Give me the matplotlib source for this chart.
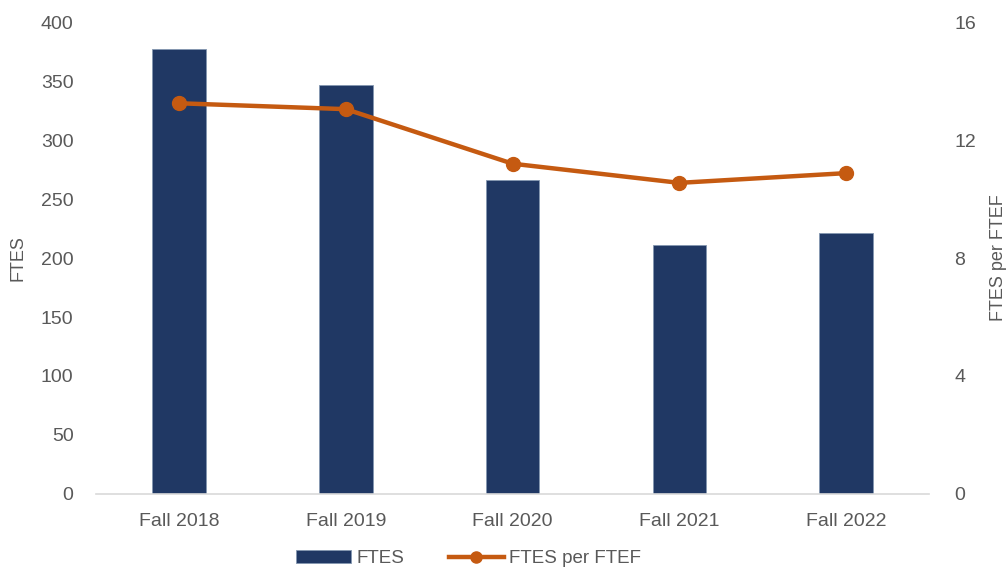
import numpy as np
import matplotlib.pyplot as plt

plt.rcParams['font.family'] = ['Liberation Sans', 'DejaVu Sans']

# ── data ───────────────────────────────────────────────────────────
terms = ['Fall 2018', 'Fall 2019', 'Fall 2020', 'Fall 2021', 'Fall 2022']
ftes = [377, 347, 266, 211, 221]
ftes_per_ftef = [13.25, 13.05, 11.2, 10.55, 10.88]

navy = '#203864'
orange = '#C55A11'
grey = '#595959'

# ── plot ───────────────────────────────────────────────────────────
fig = plt.figure(figsize=(10.08, 5.69), dpi=100)
ax = fig.add_axes([0.095, 0.132, 0.827, 0.829])
ax2 = ax.twinx()

x = np.arange(len(terms))
bars = ax.bar(x, ftes, width=0.32, color=navy, edgecolor='#8497b0',
              linewidth=0.6, label='FTES', zorder=2)
line, = ax2.plot(x, ftes_per_ftef, color=orange, linewidth=3.2,
                 marker='o', markersize=10, label='FTES per FTEF', zorder=3)

ax.set_xlim(-0.5, len(terms) - 0.5)
ax.set_ylim(0, 400)
ax.set_yticks(range(0, 401, 50))
ax2.set_ylim(0, 16)
ax2.set_yticks(range(0, 17, 4))

ax.set_xticks(x)
ax.set_xticklabels(terms)
ax.set_ylabel('FTES', color=grey, fontsize=13, labelpad=10)
ax2.set_ylabel('FTES per FTEF', color=grey, fontsize=13, labelpad=10)

for a in (ax, ax2):
    for s in a.spines.values():
        s.set_visible(False)
    a.tick_params(length=0, labelsize=14, colors=grey)
ax.tick_params(axis='y', pad=16)
ax2.tick_params(axis='y', pad=18)
ax.tick_params(axis='x', pad=14)
ax.spines['bottom'].set_visible(True)
ax.spines['bottom'].set_color('#d9d9d9')
ax.spines['bottom'].set_linewidth(1.2)

fig.legend([bars, line], ['FTES', 'FTES per FTEF'], loc='lower center',
           bbox_to_anchor=(0.465, -0.027), ncol=2, frameon=False, fontsize=13.5,
           labelcolor=grey, handlelength=2.9, handletextpad=0.3,
           columnspacing=2.4, markerscale=0.8)

plt.savefig('out.png', dpi=100)
